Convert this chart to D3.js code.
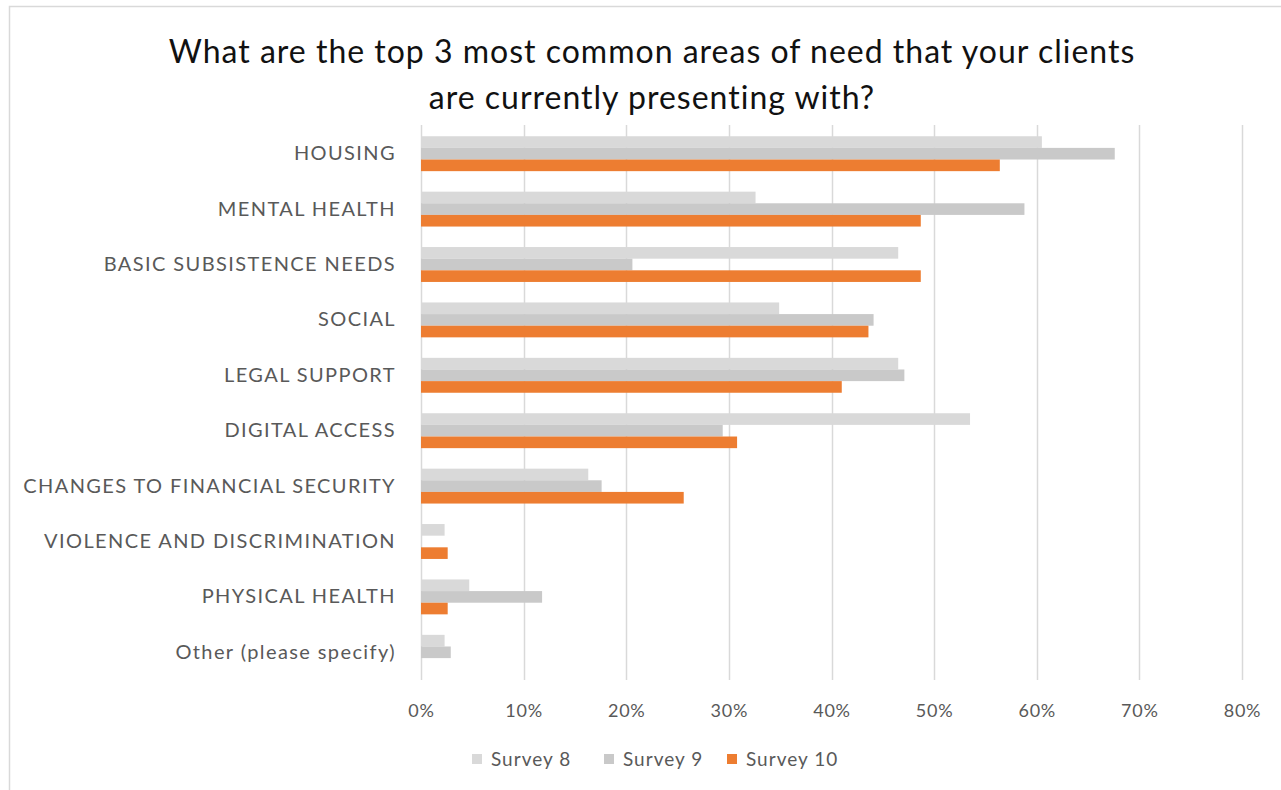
<!DOCTYPE html>
<html>
<head>
<meta charset="utf-8">
<script src="https://cdn.jsdelivr.net/npm/d3@7"></script>
<style>
  html, body { margin: 0; padding: 0; background: #ffffff; }
  svg { display: block; }
</style>
</head>
<body>
<svg id="chart" width="1281" height="790"></svg>
<script>
// Survey responses: share of respondents naming each area of need (percent)
const categories = [
  "HOUSING",
  "MENTAL HEALTH",
  "BASIC SUBSISTENCE NEEDS",
  "SOCIAL",
  "LEGAL SUPPORT",
  "DIGITAL ACCESS",
  "CHANGES TO FINANCIAL SECURITY",
  "VIOLENCE AND DISCRIMINATION",
  "PHYSICAL HEALTH",
  "Other (please specify)"
];
const seriesNames = ["Survey 8", "Survey 9", "Survey 10"];
const survey8  = [60.5, 32.6, 46.5, 34.9, 46.5, 53.5, 16.3, 2.3, 4.7, 2.3];
const survey9  = [67.6, 58.8, 20.6, 44.1, 47.1, 29.4, 17.6, 0.0, 11.8, 2.9];
const survey10 = [56.4, 48.7, 48.7, 43.6, 41.0, 30.8, 25.6, 2.6, 2.6, 0.0];
const xTicks = [0, 10, 20, 30, 40, 50, 60, 70, 80];
const titleLines = [
  "What are the top 3 most common areas of need that your clients",
  "are currently presenting with?"
];

const seriesValues = [survey8, survey9, survey10];
const colors = ["#d9d9d9", "#c9c9c9", "#ed7d31"];
const FONT = "Lato, 'Open Sans', sans-serif";
const TEXT_GREY = "#595959";

const svg = d3.select("#chart");
const plot = { left: 421, right: 1242, top: 126, bottom: 680 };

// Chart frame
svg.append("rect")
  .attr("x", 9.5).attr("y", 6.5)
  .attr("width", 1290).attr("height", 800)
  .attr("fill", "#ffffff")
  .attr("stroke", "#d9d9d9")
  .attr("stroke-width", 1.5);

// Title
svg.append("g").selectAll("text")
  .data(titleLines)
  .join("text")
  .attr("x", 652)
  .attr("y", (d, i) => 63 + i * 46)
  .attr("text-anchor", "middle")
  .attr("font-family", FONT)
  .attr("font-size", 32)
  .attr("letter-spacing", 1)
  .attr("fill", "#111111")
  .text(d => d);

const x = d3.scaleLinear().domain([0, 80]).range([plot.left, plot.right]);
const y = d3.scaleBand()
  .domain(categories)
  .range([plot.top, plot.bottom])
  .paddingInner(0.37)
  .paddingOuter(0.185);
const ySub = d3.scaleBand()
  .domain(d3.range(seriesNames.length))
  .range([0, y.bandwidth()]);

// Vertical gridlines
svg.append("g")
  .selectAll("line")
  .data(xTicks)
  .join("line")
  .attr("x1", d => Math.round(x(d)) + 0.5)
  .attr("x2", d => Math.round(x(d)) + 0.5)
  .attr("y1", plot.top - 1)
  .attr("y2", plot.bottom)
  .attr("stroke", "#d9d9d9")
  .attr("stroke-width", 1.5);

// Bars
const groups = svg.append("g")
  .selectAll("g")
  .data(categories)
  .join("g")
  .attr("transform", d => `translate(0,${y(d)})`);

groups.selectAll("rect")
  .data((c, ci) => seriesValues.map((vals, si) => ({ si, v: vals[ci] })))
  .join("rect")
  .attr("x", x(0))
  .attr("y", d => ySub(d.si))
  .attr("width", d => x(d.v) - x(0))
  .attr("height", ySub.bandwidth())
  .attr("fill", d => colors[d.si]);

// Category axis labels
const yAxis = d3.axisLeft(y).tickSize(0).tickPadding(25);
const yAxisG = svg.append("g")
  .attr("transform", `translate(${plot.left},0)`)
  .call(yAxis);
yAxisG.select(".domain").remove();
yAxisG.selectAll("text")
  .attr("font-family", FONT)
  .attr("font-size", 20)
  .attr("letter-spacing", 1.4)
  .attr("fill", TEXT_GREY);

// Percentage axis labels
const xAxis = d3.axisBottom(x).tickValues(xTicks).tickFormat(d => d + "%").tickSize(0).tickPadding(24);
const xAxisG = svg.append("g")
  .attr("transform", `translate(0,${plot.bottom})`)
  .call(xAxis);
xAxisG.select(".domain").remove();
xAxisG.selectAll("text")
  .attr("font-family", FONT)
  .attr("font-size", 18)
  .attr("letter-spacing", 0.8)
  .attr("fill", TEXT_GREY);

// Legend
const legendX = [472, 604, 727];
const legend = svg.append("g")
  .selectAll("g")
  .data(seriesNames)
  .join("g")
  .attr("transform", (d, i) => `translate(${legendX[i]},759)`);
legend.append("rect")
  .attr("x", 0).attr("y", -5)
  .attr("width", 10).attr("height", 10)
  .attr("fill", (d, i) => colors[i]);
legend.append("text")
  .attr("x", 19).attr("y", 0)
  .attr("dy", "0.35em")
  .attr("font-family", FONT)
  .attr("font-size", 19)
  .attr("letter-spacing", 1)
  .attr("fill", TEXT_GREY)
  .text(d => d);
</script>
</body>
</html>
